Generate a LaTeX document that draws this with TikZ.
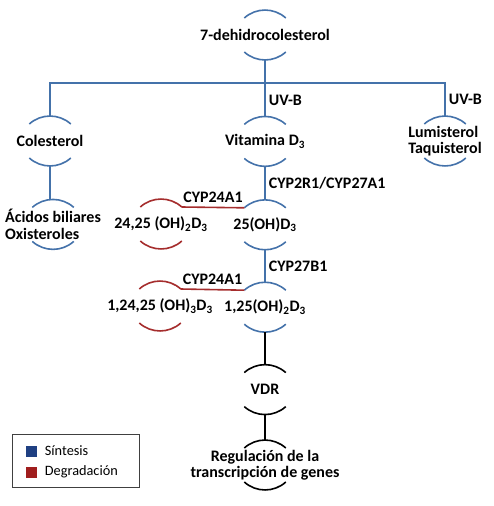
\documentclass[tikz,border=0pt]{standalone}
\usepackage{fontspec}
\setmainfont{Carlito}
\usepackage{tikz}
\usetikzlibrary{calc,positioning}
\definecolor{sinlinea}{RGB}{68,114,170}
\definecolor{deglinea}{RGB}{165,45,45}
\definecolor{leyazul}{RGB}{31,64,130}
\definecolor{leyrojo}{RGB}{160,30,30}

\begin{document}
\begin{tikzpicture}
    [x=1pt, y=1pt,
    mol/.style={minimum height=50pt, inner sep=0pt, align=center,
    font=\bfseries\fontsize{16}{16.5}\selectfont},
    enz/.style={font=\bfseries\fontsize{16}{16.5}\selectfont, inner sep=3pt},
    ley/.style={font=\fontsize{14.3}{16}\selectfont, inner sep=2pt},
    sint/.style={draw=sinlinea, line width=1.6pt},
    degr/.style={draw=deglinea, line width=1.6pt},
    recep/.style={draw=black, line width=1.6pt}]

  \useasboundingbox (0,0) rectangle (493,-506);

  \node[mol] (dhc) at (265,-35) {7-dehidrocolesterol};
  \node[mol, below=56pt of dhc] (vitD) {Vitamina D\textsubscript{3}};
  \node[mol] (col) at (50,-141) {Colesterol};
  \node[mol, align=left] (lum) at (445,-141) {Lumisterol\\Taquisterol};
  \node[mol, align=left, below=33pt of col, xshift=3pt] (acid) {Ácidos biliares\\Oxisteroles};
  \node[mol, below=33pt of vitD] (oh25) {25(OH)D\textsubscript{3}};
  \node[mol] (oh2425) at (161,-224) {24,25 (OH)\textsubscript{2}D\textsubscript{3}};
  \node[mol, below=32pt of oh25] (oh125) {1,25(OH)\textsubscript{2}D\textsubscript{3}};
  \node[mol] (oh12425) at (160,-306) {1,24,25 (OH)\textsubscript{3}D\textsubscript{3}};
  \node[mol, below=32pt of oh125] (vdr) {VDR};
  \node[mol, below=25pt of vdr] (reg) {Regulación de la\\transcripción de genes};

  \foreach \n/\c in {dhc/sint, vitD/sint, col/sint, lum/sint, acid/sint,
      oh25/sint, oh2425/degr, oh125/sint, oh12425/degr, vdr/recep, reg/recep} {
    \draw[\c] ([shift={(-20.7,17)}]\n.center) arc[start angle=132, end angle=48, radius=31];
    \draw[\c] ([shift={(-20.7,-17)}]\n.center) arc[start angle=228, end angle=312, radius=31];
  }

  \draw[sint] (dhc.south) -- node[enz, pos=0.71, right] {UV-B} (vitD.north);
  \draw[sint] (col.north) -- ++(0,33) -| node[enz, pos=0.75, right] {UV-B} (lum.north);
  \draw[sint] (col.south) -- (col.south |- acid.north);
  \draw[sint] (vitD.south) -- node[enz, right] {CYP2R1/CYP27A1} (oh25.north);
  \draw[sint] (oh25.south) -- node[enz, right] {CYP27B1} (oh125.north);
  \draw[degr] ([shift={(20.7,17)}]oh2425.center) -- node[enz, above=1pt] {CYP24A1}
    ([shift={(-20.7,17)}]oh25.center);
  \draw[degr] ([shift={(20.7,17)}]oh12425.center) -- node[enz, above=1pt] {CYP24A1}
    ([shift={(-20.7,17)}]oh125.center);
  \draw[recep] (oh125.south) -- (vdr.north);
  \draw[recep] (vdr.south) -- (reg.north);

  \draw[draw=black!75, line width=1pt] (12,-434) rectangle (139,-487);
  \node[fill=leyazul, minimum size=11pt, inner sep=0pt] (cuadA) at (31,-451) {};
  \node[fill=leyrojo, minimum size=11pt, inner sep=0pt] (cuadB) at (31,-472) {};
  \node[ley, right=6pt of cuadA] (sin) {Síntesis};
  \node[ley, right=6pt of cuadB] (deg) {Degradación};

\end{tikzpicture}
\end{document}
